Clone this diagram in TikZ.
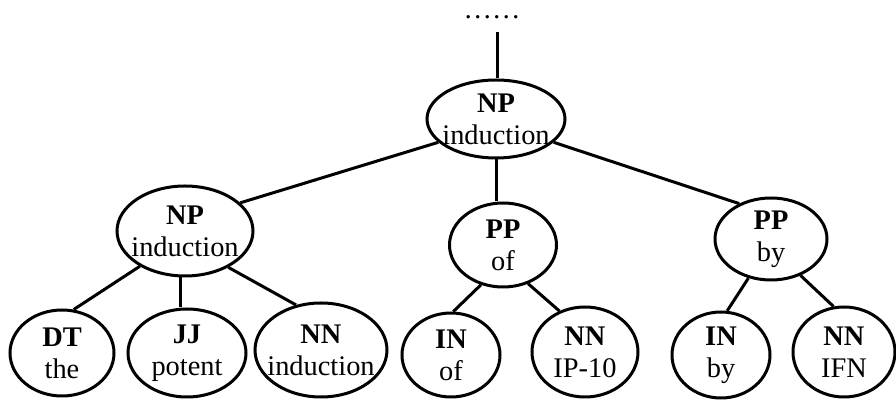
\documentclass[tikz,border=0pt]{standalone}
\usepackage{fontspec}
\setmainfont{Liberation Serif}
\usetikzlibrary{shapes.geometric}
\tikzset{
  parse/.style = {x=0.5pt, y=-0.5pt, line width=1.5pt},
  tok/.style = {ellipse, draw, line width=1.5pt, inner sep=0pt},
  word/.style = {align=center, font=\fontsize{14.2}{16}\selectfont},
}

\begin{document}
\begin{tikzpicture}[parse]
  \useasboundingbox (0,0) rectangle (896,400);

  %% top of the tree
  \node[word, inner sep=0pt] (dots) at (492,17) {……};
  \coordinate (top) at (497,32);

  % phrase nodes
  \node[tok, minimum width=69pt, minimum height=39pt,
        label={[word]center:\textbf{NP}\\induction}] (root) at (496,119) {};
  \node[tok, minimum width=68pt, minimum height=45pt,
        label={[word]center:\textbf{NP}\\induction}] (np) at (185,231) {};
  \node[tok, minimum width=53.5pt, minimum height=42pt,
        label={[word]center:\textbf{PP}\\of}] (ppof) at (503,245) {};
  \node[tok, minimum width=56pt, minimum height=41pt,
        label={[word]center:\textbf{PP}\\by}] (ppby) at (771,239) {};

  % word nodes
  \node[tok, minimum width=52pt, minimum height=43pt,
        label={[word]center:\textbf{DT}\\the}] (dt) at (62,353) {};
  \node[tok, minimum width=59pt, minimum height=44pt,
        label={[word]center:\textbf{JJ}\\potent}] (jj) at (187,353) {};
  \node[tok, minimum width=66pt, minimum height=47pt,
        label={[word]center:\textbf{NN}\\induction}] (nnind) at (321,350) {};
  \node[tok, minimum width=49pt, minimum height=42pt,
        label={[word]center:\textbf{IN}\\of}] (inof) at (451,355) {};
  \node[tok, minimum width=53pt, minimum height=45pt,
        label={[word]center:\textbf{NN}\\IP-10}] (nnip) at (585,352) {};
  \node[tok, minimum width=49pt, minimum height=43pt,
        label={[word]center:\textbf{IN}\\by}] (inby) at (721,355) {};
  \node[tok, minimum width=51pt, minimum height=45pt,
        label={[word]center:\textbf{NN}\\IFN}] (nnifn) at (844,352) {};

  % edges
  \draw (top) -- (top |- root.north);
  \draw (root.202) -- (np.27);
  \draw (root.south) -- (root.south |- ppof.north);
  \draw (root.-22) -- (ppby.132);

  \draw (np.218) -- (dt.75);
  \draw (np.-95) -- (np.-95 |- jj.north);
  \draw (np.-40) -- (nnind.119);

  \draw (ppof.241) -- (inof.87);
  \draw (ppof.-57) -- (nnip.122);

  \draw (ppby.240) -- (inby.82);
  \draw (ppby.-51) -- (nnifn.103);
\end{tikzpicture}
\end{document}
